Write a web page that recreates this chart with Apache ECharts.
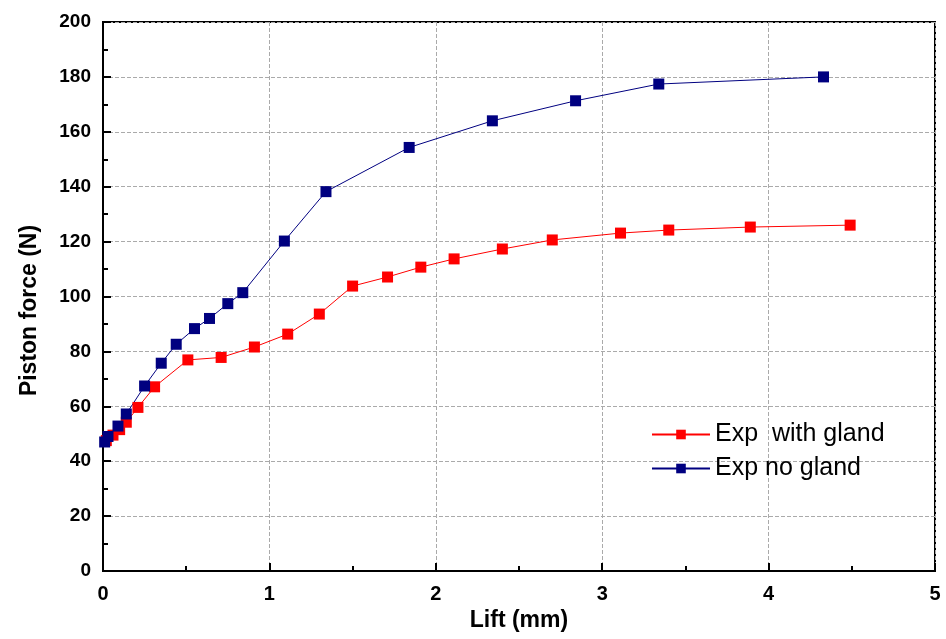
<!DOCTYPE html>
<html>
<head>
<meta charset="utf-8">
<script src="https://cdn.jsdelivr.net/npm/echarts@6/dist/echarts.min.js"></script>
<style>
html, body { margin: 0; padding: 0; background: #fff; }
#main { width: 946px; height: 639px; }
</style>
</head>
<body>
<div id="main"></div>
<script>
var chartDom = document.getElementById('main');
var myChart = echarts.init(chartDom);

// Exp with gland
var redX = [0.02, 0.06, 0.1, 0.14, 0.21, 0.31, 0.51, 0.71, 0.91, 1.11, 1.30, 1.50, 1.71, 1.91, 2.11, 2.40, 2.70, 3.11, 3.40, 3.89, 4.49];
var redY = [47.5, 49.5, 51.5, 54.2, 59.6, 67.1, 76.9, 77.8, 81.6, 86.3, 93.6, 103.8, 107.1, 110.7, 113.7, 117.3, 120.6, 123.1, 124.2, 125.3, 126.0];
// Exp no gland
var blueX = [0.01, 0.03, 0.09, 0.14, 0.25, 0.35, 0.44, 0.55, 0.64, 0.75, 0.84, 1.09, 1.34, 1.84, 2.34, 2.84, 3.34, 4.33];
var blueY = [47.0, 49.0, 52.8, 57.2, 67.4, 75.7, 82.6, 88.3, 92.0, 97.4, 101.4, 120.2, 138.2, 154.3, 164.0, 171.3, 177.4, 180.0];

var seriesNames = ['Exp  with gland', 'Exp no gland'];

function zip(xs, ys) {
    var out = [];
    for (var i = 0; i < xs.length; i++) out.push([xs[i], ys[i]]);
    return out;
}

var option = {
    animation: false,
    textStyle: { fontFamily: 'Liberation Sans, Arial, sans-serif' },
    grid: {
        left: 103,
        right: 11,
        top: 22,
        bottom: 68,
        show: true,
        borderColor: '#000',
        borderWidth: 2,
        backgroundColor: 'transparent'
    },
    legend: {
        orient: 'vertical',
        left: 651,
        top: 422,
        padding: 0,
        itemWidth: 58,
        itemHeight: 12,
        itemGap: 9,
        textStyle: { fontSize: 25, color: '#000' },
        data: seriesNames
    },
    xAxis: {
        type: 'value',
        min: 0,
        max: 5,
        interval: 1,
        name: 'Lift (mm)',
        nameLocation: 'middle',
        nameGap: 33,
        nameTextStyle: { fontSize: 23, fontWeight: 'bold', color: '#000' },
        axisLine: { onZero: false, lineStyle: { color: '#000', width: 2 } },
        axisTick: { inside: true, length: 8, lineStyle: { color: '#000', width: 2 } },
        minorTick: { show: true, splitNumber: 2, length: 5, lineStyle: { color: '#000', width: 2 } },
        axisLabel: { fontSize: 20, fontWeight: 'bold', color: '#000', margin: 13 },
        splitLine: { show: true, lineStyle: { color: '#aaa', type: 'dashed', width: 1 } }
    },
    yAxis: {
        type: 'value',
        min: 0,
        max: 200,
        interval: 20,
        name: 'Piston force (N)',
        nameLocation: 'middle',
        nameGap: 62,
        nameTextStyle: { fontSize: 23, fontWeight: 'bold', color: '#000', padding: [0, 28, 0, 0] },
        axisLine: { onZero: false, lineStyle: { color: '#000', width: 2 } },
        axisTick: { inside: true, length: 8, lineStyle: { color: '#000', width: 2 } },
        minorTick: { show: true, splitNumber: 2, length: 5, lineStyle: { color: '#000', width: 2 } },
        axisLabel: { fontSize: 19, fontWeight: 'bold', color: '#000', margin: 12 },
        splitLine: { show: true, lineStyle: { color: '#aaa', type: 'dashed', width: 1 } }
    },
    series: [
        {
            name: seriesNames[0],
            type: 'line',
            data: zip(redX, redY),
            symbol: 'rect',
            symbolSize: 11,
            itemStyle: { color: '#ff0000' },
            lineStyle: { color: '#ff0000', width: 1 }
        },
        {
            name: seriesNames[1],
            type: 'line',
            data: zip(blueX, blueY),
            symbol: 'rect',
            symbolSize: 11,
            itemStyle: { color: '#000080' },
            lineStyle: { color: '#000080', width: 1 }
        }
    ]
};

myChart.setOption(option);
</script>
</body>
</html>
